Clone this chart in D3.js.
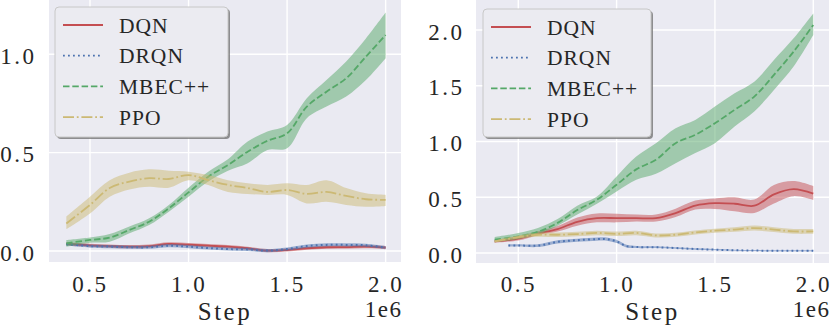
<!DOCTYPE html>
<html>
<head>
<meta charset="utf-8">
<script src="https://cdn.jsdelivr.net/npm/d3@7"></script>
<style>
  body { margin: 0; background: #fff; }
  svg { display: block; }
  svg text { font-family: "Liberation Serif", "Times New Roman", Times, serif; }
</style>
</head>
<body>
<script>
// steps in units of 1e6
var steps = [0.38, 0.5, 0.6, 0.7, 0.8, 0.9, 1.0, 1.1, 1.2, 1.3, 1.4, 1.5, 1.6, 1.7, 1.8, 1.9, 2.0];
var drqnStepsR = [0.45, 0.5, 0.6, 0.7, 0.8, 0.9, 0.95, 1.0, 1.05, 1.1, 1.2, 1.3, 1.4, 1.5, 1.6, 1.7, 1.8, 1.9, 2.0];

var names = ["DQN", "DRQN", "MBEC++", "PPO"];
var yTicksL = [0.0, 0.5, 1.0];
var yTicksR = [0.0, 0.5, 1.0, 1.5, 2.0];
var xTicks = [0.5, 1.0, 1.5, 2.0];

// left panel
var L_DQN = [0.036, 0.029, 0.025, 0.022, 0.025, 0.036, 0.032, 0.027, 0.022, 0.014, 0.002, 0.005, 0.014, 0.019, 0.020, 0.022, 0.017];
var L_DRQN = [0.034, 0.025, 0.022, 0.019, 0.019, 0.027, 0.022, 0.015, 0.010, 0.008, 0.002, 0.010, 0.025, 0.031, 0.031, 0.029, 0.017];
var L_MBEC = [0.039, 0.056, 0.068, 0.107, 0.149, 0.217, 0.298, 0.378, 0.437, 0.505, 0.560, 0.598, 0.734, 0.810, 0.878, 0.988, 1.098];
var L_MBEC_hi = [0.056, 0.069, 0.086, 0.124, 0.166, 0.234, 0.322, 0.403, 0.466, 0.556, 0.607, 0.641, 0.776, 0.869, 0.963, 1.080, 1.212];
var L_MBEC_lo = [0.022, 0.042, 0.047, 0.090, 0.132, 0.200, 0.276, 0.353, 0.408, 0.446, 0.514, 0.522, 0.675, 0.734, 0.785, 0.869, 0.980];
var L_PPO = [0.140, 0.234, 0.320, 0.353, 0.370, 0.366, 0.386, 0.360, 0.336, 0.320, 0.300, 0.310, 0.290, 0.300, 0.280, 0.263, 0.260];
var L_PPO_hi = [0.175, 0.276, 0.360, 0.398, 0.415, 0.408, 0.403, 0.386, 0.360, 0.344, 0.336, 0.344, 0.336, 0.360, 0.320, 0.293, 0.285];
var L_PPO_lo = [0.110, 0.190, 0.276, 0.313, 0.327, 0.322, 0.360, 0.335, 0.300, 0.290, 0.285, 0.285, 0.242, 0.250, 0.234, 0.225, 0.229];

// right panel
var R_DQN = [0.104, 0.130, 0.175, 0.215, 0.280, 0.313, 0.313, 0.313, 0.313, 0.358, 0.425, 0.447, 0.442, 0.424, 0.526, 0.573, 0.532];
var R_DQN_hi = [0.118, 0.150, 0.195, 0.242, 0.318, 0.355, 0.352, 0.345, 0.346, 0.398, 0.470, 0.490, 0.500, 0.480, 0.610, 0.645, 0.600];
var R_DQN_lo = [0.092, 0.112, 0.160, 0.192, 0.245, 0.275, 0.275, 0.283, 0.283, 0.322, 0.390, 0.395, 0.375, 0.360, 0.445, 0.510, 0.475];
var R_DRQN = [0.068, 0.068, 0.066, 0.100, 0.115, 0.125, 0.125, 0.104, 0.062, 0.054, 0.052, 0.045, 0.036, 0.030, 0.025, 0.022, 0.020, 0.020, 0.020];
var R_DRQN_band = [0.010, 0.010, 0.012, 0.014, 0.014, 0.014, 0.014, 0.014, 0.012, 0.010, 0.008, 0.007, 0.006, 0.006, 0.005, 0.005, 0.004, 0.004, 0.004];
var R_MBEC = [0.119, 0.149, 0.190, 0.270, 0.385, 0.478, 0.612, 0.750, 0.836, 0.985, 1.060, 1.164, 1.284, 1.403, 1.597, 1.806, 2.045];
var R_MBEC_hi = [0.143, 0.179, 0.225, 0.305, 0.425, 0.507, 0.687, 0.866, 0.985, 1.119, 1.194, 1.313, 1.433, 1.537, 1.731, 1.925, 2.149];
var R_MBEC_lo = [0.096, 0.125, 0.165, 0.245, 0.345, 0.442, 0.552, 0.657, 0.710, 0.806, 0.896, 0.985, 1.134, 1.269, 1.463, 1.672, 1.955];
var R_PPO = [0.104, 0.143, 0.164, 0.164, 0.170, 0.180, 0.172, 0.180, 0.158, 0.164, 0.185, 0.200, 0.210, 0.224, 0.210, 0.194, 0.194];
var R_PPO_band = [0.010, 0.015, 0.018, 0.020, 0.020, 0.020, 0.020, 0.020, 0.018, 0.018, 0.018, 0.018, 0.020, 0.022, 0.022, 0.022, 0.022];

var colors = ["#c44e52", "#4c72b0", "#55a868", "#ccb974"];
var dashes = [null, "1.8,3.2", "6.5,2.8", "11,2.8,1.8,2.8"];

var W = 830, H = 325;
var svg = d3.select("body").append("svg").attr("width", W).attr("height", H);

function band(mean, w) { return mean.map((m, i) => [m - w[i], m + w[i]]); }
function zipLoHi(lo, hi) { return lo.map((l, i) => [l, hi[i]]); }
function const_(n, v) { return d3.range(n).map(() => v); }

var panels = [
  {
    left: 49, right: 401, top: 0, bottom: 262,
    xd: [0.292, 2.078], yd: [-0.056, 1.276], yTicks: yTicksL,
    yLabX: 36.5, legend: {x: 55, y: 7, w: 173, h: 130},
    series: [
      {x: steps, m: L_DQN, b: band(L_DQN, const_(17, 0.008))},
      {x: steps, m: L_DRQN, b: band(L_DRQN, const_(17, 0.008))},
      {x: steps, m: L_MBEC, b: zipLoHi(L_MBEC_lo, L_MBEC_hi)},
      {x: steps, m: L_PPO, b: zipLoHi(L_PPO_lo, L_PPO_hi)}
    ]
  },
  {
    left: 476, right: 829, top: 0, bottom: 263,
    xd: [0.285, 2.08], yd: [-0.0895, 2.269], yTicks: yTicksR,
    yLabX: 464.5, legend: {x: 483, y: 9, w: 168, h: 128},
    series: [
      {x: steps, m: R_DQN, b: zipLoHi(R_DQN_lo, R_DQN_hi)},
      {x: drqnStepsR, m: R_DRQN, b: band(R_DRQN, R_DRQN_band)},
      {x: steps, m: R_MBEC, b: zipLoHi(R_MBEC_lo, R_MBEC_hi)},
      {x: steps, m: R_PPO, b: band(R_PPO, R_PPO_band)}
    ]
  }
];

panels.forEach(function(p, pi) {
  var x = d3.scaleLinear().domain(p.xd).range([p.left, p.right]);
  var y = d3.scaleLinear().domain(p.yd).range([p.bottom, p.top]);
  var g = svg.append("g");

  var clipId = "clip" + pi;
  g.append("clipPath").attr("id", clipId).append("rect")
      .attr("x", p.left).attr("y", p.top)
      .attr("width", p.right - p.left).attr("height", p.bottom - p.top);

  g.append("rect")
      .attr("x", p.left).attr("y", p.top)
      .attr("width", p.right - p.left).attr("height", p.bottom - p.top)
      .attr("fill", "#eaeaf2");

  // grid
  g.selectAll(".gx").data(xTicks).join("line")
      .attr("x1", d => x(d)).attr("x2", d => x(d))
      .attr("y1", p.top).attr("y2", p.bottom)
      .attr("stroke", "#fff").attr("stroke-width", 1.4);
  g.selectAll(".gy").data(p.yTicks).join("line")
      .attr("y1", d => y(d)).attr("y2", d => y(d))
      .attr("x1", p.left).attr("x2", p.right)
      .attr("stroke", "#fff").attr("stroke-width", 1.4);

  var plot = g.append("g").attr("clip-path", "url(#" + clipId + ")");
  p.series.forEach(function(s, si) {
    var area = d3.area()
        .x((d, i) => x(s.x[i]))
        .y0(d => y(d[0])).y1(d => y(d[1]))
        .curve(d3.curveCatmullRom.alpha(0.5));
    var line = d3.line()
        .x((d, i) => x(s.x[i])).y(d => y(d))
        .curve(d3.curveCatmullRom.alpha(0.5));
    plot.append("path").attr("d", line(s.m))
        .attr("fill", "none").attr("stroke", colors[si])
        .attr("stroke-width", si == 1 ? 2 : 1.8)
        .attr("stroke-dasharray", dashes[si]);
    plot.append("path").attr("d", area(s.b))
        .attr("fill", colors[si]).attr("fill-opacity", 0.5).attr("stroke", "none");
  });

  // tick labels
  g.selectAll(".xl").data(xTicks).join("text")
      .attr("x", d => x(d) + 0.5).attr("y", 292)
      .attr("text-anchor", "middle")
      .attr("font-size", 23).attr("letter-spacing", 2.5)
      .attr("fill", "#262626")
      .text(d => d3.format(".1f")(d));
  g.selectAll(".yl").data(p.yTicks).join("text")
      .attr("x", p.yLabX).attr("y", d => y(d))
      .attr("dy", "0.42em")
      .attr("text-anchor", "end")
      .attr("font-size", 23).attr("letter-spacing", 2.5)
      .attr("fill", "#262626")
      .text(d => d3.format(".1f")(d));

  g.append("text")
      .attr("x", (p.left + p.right) / 2).attr("y", 320)
      .attr("text-anchor", "middle")
      .attr("font-size", 25).attr("letter-spacing", 2.5)
      .attr("fill", "#262626")
      .text("Step");
  g.append("text")
      .attr("x", p.right + 1.5).attr("y", 317)
      .attr("text-anchor", "end")
      .attr("font-size", 23).attr("letter-spacing", 1.5)
      .attr("fill", "#262626")
      .text("1e6");

  // legend
  var L = p.legend;
  var lg = g.append("g");
  lg.append("rect")
      .attr("x", L.x + 2).attr("y", L.y + 2).attr("width", L.w).attr("height", L.h)
      .attr("rx", 4).attr("fill", "#6e6e6e").attr("fill-opacity", 0.75);
  lg.append("rect")
      .attr("x", L.x).attr("y", L.y).attr("width", L.w).attr("height", L.h)
      .attr("rx", 4).attr("fill", "#ebebf1").attr("stroke", "#c8c8c8").attr("stroke-width", 1);
  var items = lg.selectAll(".it").data(names).join("g")
      .attr("transform", (d, i) => "translate(" + (L.x + 8) + "," + (L.y + 18 + i * 30.7) + ")");
  items.append("line")
      .attr("x1", 0).attr("x2", 40).attr("y1", 0).attr("y2", 0)
      .attr("stroke", (d, i) => colors[i]).attr("stroke-width", 1.8)
      .attr("stroke-dasharray", (d, i) => dashes[i]);
  items.append("text")
      .attr("x", 56).attr("y", 0).attr("dy", "0.36em")
      .attr("font-size", 21.5).attr("letter-spacing", 1)
      .attr("fill", "#262626")
      .text(d => d);
});
</script>
</body>
</html>
